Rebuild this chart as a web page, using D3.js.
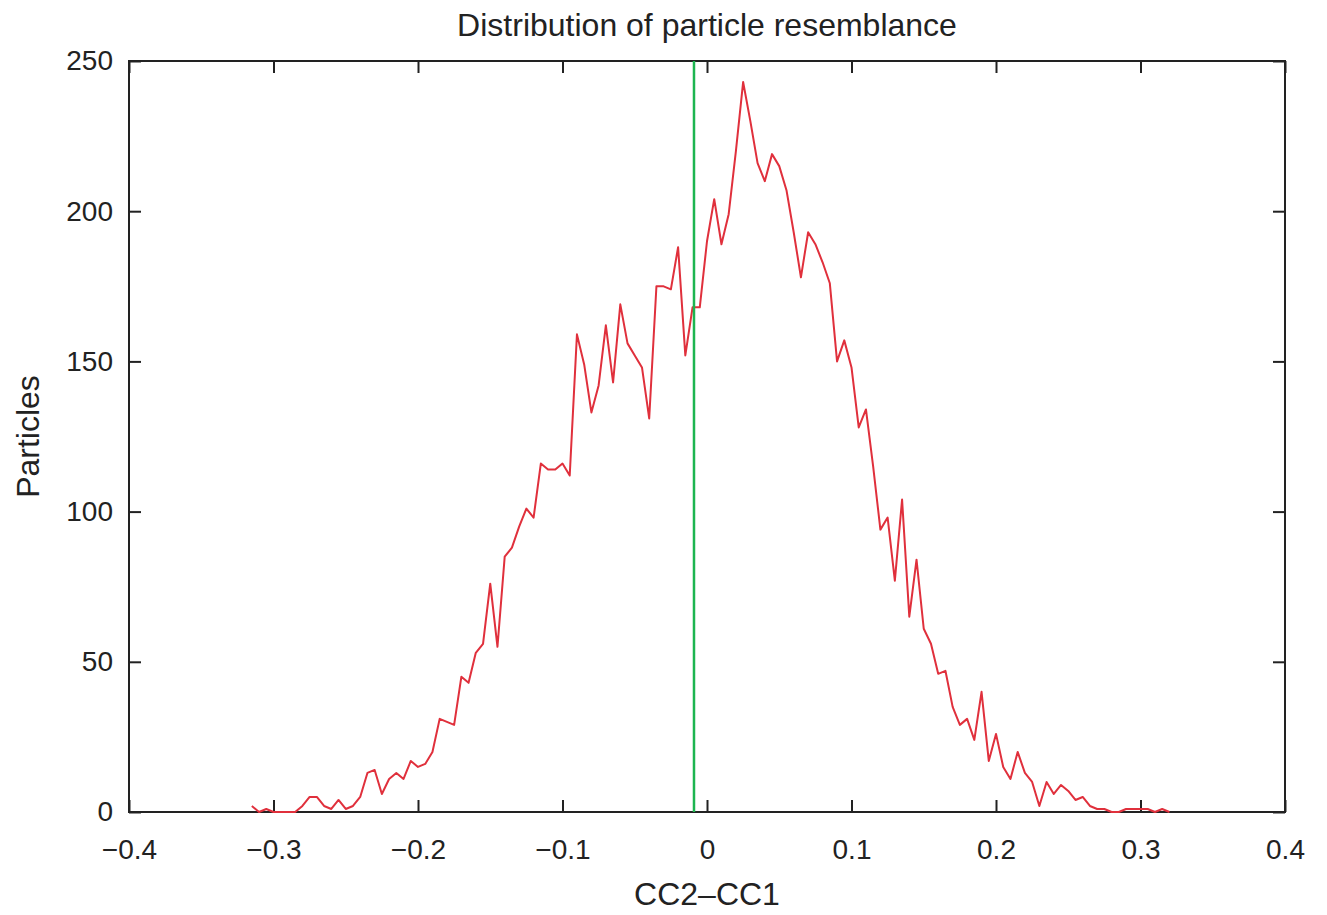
<!DOCTYPE html>
<html>
<head>
<meta charset="utf-8">
<script src="https://cdn.jsdelivr.net/npm/d3@7"></script>
<style>
  body { margin: 0; background: #fff; }
  text { font-family: "Liberation Sans", Arial, sans-serif; fill: #222; }
</style>
</head>
<body>
<script>
const w = 1327;
const h = 915;

const m = {
  top: 61,
  right: 42,
  bottom: 103,
  left: 129 };

// histogram bin centres (CC2-CC1)
const bins = [
  -0.315, -0.31, -0.305, -0.3, -0.295, -0.29, -0.285, -0.28, -0.275, -0.27,
  -0.265, -0.26, -0.255, -0.25, -0.245, -0.24, -0.235, -0.23, -0.225, -0.22,
  -0.215, -0.21, -0.205, -0.2, -0.195, -0.19, -0.185, -0.18, -0.175, -0.17,
  -0.165, -0.16, -0.155, -0.15, -0.145, -0.14, -0.135, -0.13, -0.125, -0.12,
  -0.115, -0.11, -0.105, -0.1, -0.095, -0.09, -0.085, -0.08, -0.075, -0.07,
  -0.065, -0.06, -0.055, -0.05, -0.045, -0.04, -0.035, -0.03, -0.025, -0.02,
  -0.015, -0.01, -0.005, 0, 0.005, 0.01, 0.015, 0.02, 0.025, 0.03,
  0.035, 0.04, 0.045, 0.05, 0.055, 0.06, 0.065, 0.07, 0.075, 0.08,
  0.085, 0.09, 0.095, 0.1, 0.105, 0.11, 0.115, 0.12, 0.125, 0.13,
  0.135, 0.14, 0.145, 0.15, 0.155, 0.16, 0.165, 0.17, 0.175, 0.18,
  0.185, 0.19, 0.195, 0.2, 0.205, 0.21, 0.215, 0.22, 0.225, 0.23,
  0.235, 0.24, 0.245, 0.25, 0.255, 0.26, 0.265, 0.27, 0.275, 0.28,
  0.285, 0.29, 0.295, 0.3, 0.305, 0.31, 0.315, 0.32];

// particle counts per bin
const counts = [
  2, 0, 1, 0, 0, 0, 0, 2, 5, 5,
  2, 1, 4, 1, 2, 5, 13, 14, 6, 11,
  13, 11, 17, 15, 16, 20, 31, 30, 29, 45,
  43, 53, 56, 76, 55, 85, 88, 95, 101, 98,
  116, 114, 114, 116, 112, 159, 149, 133, 142, 162,
  143, 169, 156, 152, 148, 131, 175, 175, 174, 188,
  152, 168, 168, 190, 204, 189, 199, 220, 243, 230,
  216, 210, 219, 215, 207, 193, 178, 193, 189, 183,
  176, 150, 157, 148, 128, 134, 115, 94, 98, 77,
  104, 65, 84, 61, 56, 46, 47, 35, 29, 31,
  24, 40, 17, 26, 15, 11, 20, 13, 10, 2,
  10, 6, 9, 7, 4, 5, 2, 1, 1, 0,
  0, 1, 1, 1, 1, 0, 1, 0];

const marker = -0.009;

const xTicks = [-0.4, -0.3, -0.2, -0.1, 0, 0.1, 0.2, 0.3, 0.4];
const yTicks = [0, 50, 100, 150, 200, 250];

const svg = d3.select("body").
append("svg").
attr("width", w).
attr("height", h);

const x = d3.scaleLinear().
domain([-0.4, 0.4]).
range([m.left, w - m.right]);

const y = d3.scaleLinear().
domain([0, 250]).
range([h - m.bottom, m.top]);

const fmt = d => d === 0 ? "0" : d3.format(".1f")(d).replace("-", "\u2013");

// axes with inward ticks, mirrored on top/right
const tl = 12;
const bottomAxis = d3.axisBottom(x).tickValues(xTicks).tickSize(-tl).tickPadding(27).tickFormat(fmt);
const topAxis = d3.axisTop(x).tickValues(xTicks).tickSize(-tl).tickFormat("");
const leftAxis = d3.axisLeft(y).tickValues(yTicks).tickSize(-tl).tickPadding(16);
const rightAxis = d3.axisRight(y).tickValues(yTicks).tickSize(-tl).tickFormat("");

function styleAxis(g) {
  g.select(".domain").remove();
  g.selectAll(".tick line").attr("stroke", "#222").attr("stroke-width", 2);
  g.selectAll(".tick text").style("font-size", "28px").attr("fill", "#222");
}

svg.append("g").
attr("transform", "translate(0," + (h - m.bottom) + ")").
call(bottomAxis).
call(styleAxis);

svg.append("g").
attr("transform", "translate(0," + m.top + ")").
call(topAxis).
call(styleAxis);

svg.append("g").
attr("transform", "translate(" + m.left + ",0)").
call(leftAxis).
call(styleAxis);

svg.append("g").
attr("transform", "translate(" + (w - m.right) + ",0)").
call(rightAxis).
call(styleAxis);

// frame
svg.append("rect").
attr("x", m.left).
attr("y", m.top).
attr("width", w - m.left - m.right).
attr("height", h - m.top - m.bottom).
attr("fill", "none").
attr("stroke", "#222").
attr("stroke-width", 2);

// distribution
const line = d3.line().
x((d, i) => x(bins[i])).
y(d => y(d));

svg.append("path").
datum(counts).
attr("d", line).
attr("fill", "none").
attr("stroke", "#e0303c").
attr("stroke-width", 2).
attr("stroke-linejoin", "round");

// marker line
svg.append("line").
attr("x1", x(marker)).
attr("x2", x(marker)).
attr("y1", y(0)).
attr("y2", y(250)).
attr("stroke", "#1db550").
attr("stroke-width", 2.5);

// labels
svg.append("text").
attr("x", (m.left + w - m.right) / 2).
attr("y", 36).
attr("text-anchor", "middle").
style("font-size", "32px").
text("Distribution of particle resemblance");

svg.append("text").
attr("x", (m.left + w - m.right) / 2).
attr("y", 905).
attr("text-anchor", "middle").
style("font-size", "32px").
text("CC2\u2013CC1");

svg.append("text").
attr("transform", "translate(39," + (m.top + h - m.bottom) / 2 + ") rotate(-90)").
attr("text-anchor", "middle").
style("font-size", "32px").
text("Particles");
</script>
</body>
</html>
